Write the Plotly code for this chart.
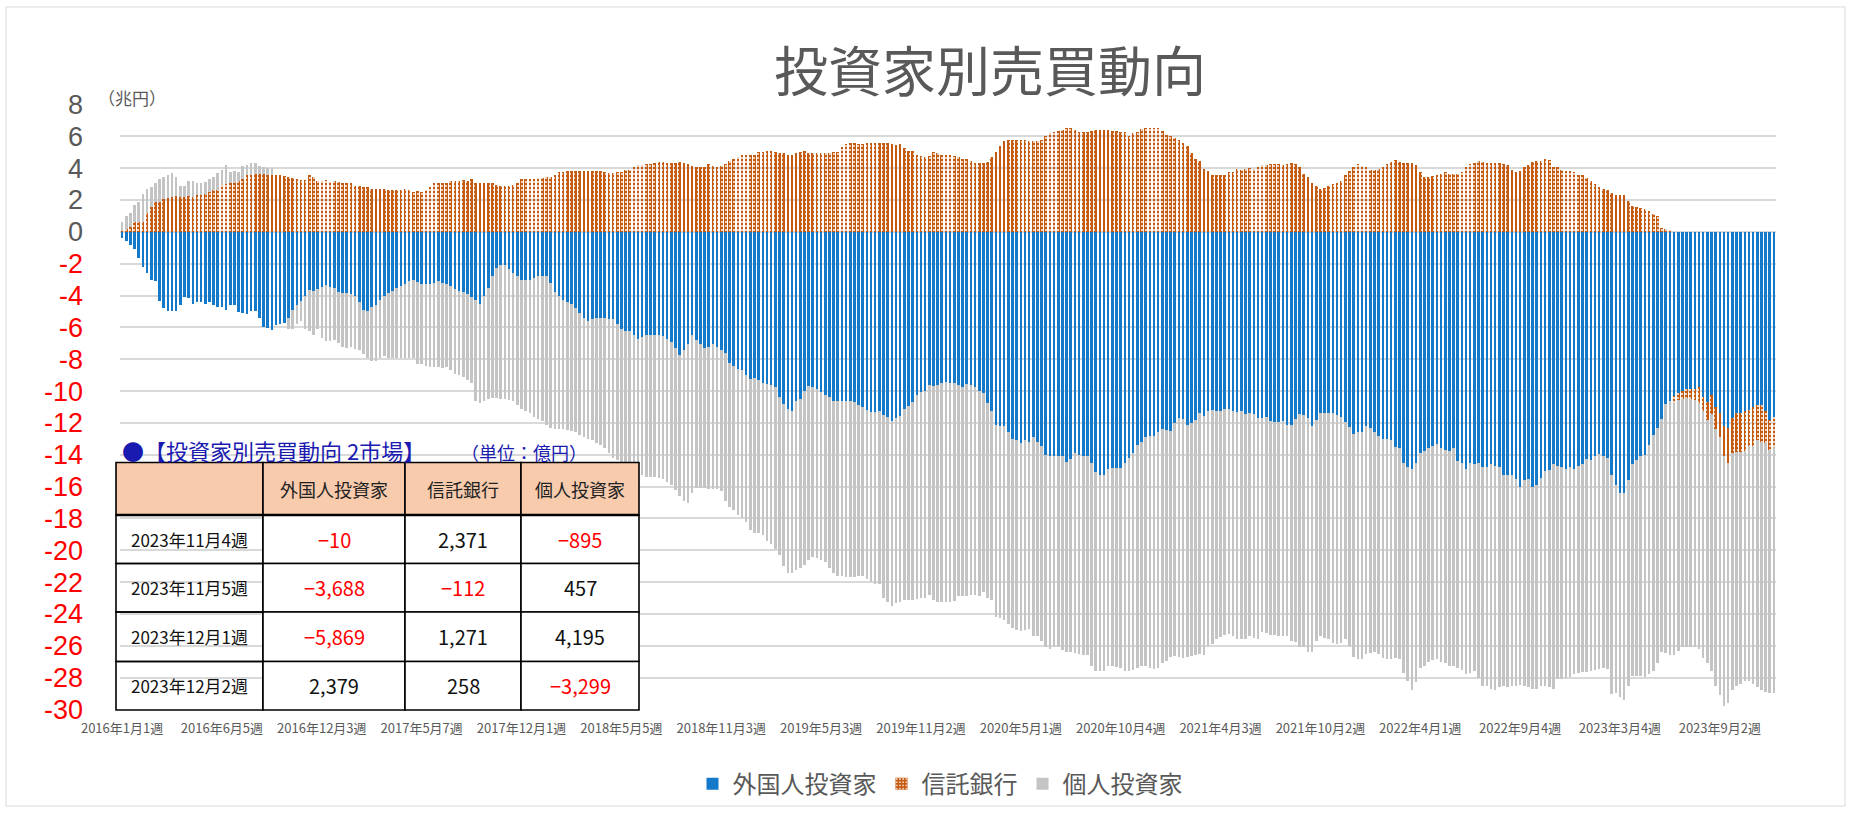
import plotly.graph_objects as go

# ---------------- data (cumulative, 兆円), weekly from 2016年1月1週 ----------------
foreign = [
    -0.4, -0.6, -0.85, -1.05, -1.65, -2.2, -2.6, -3.0, -3.1, -4.35,
    -4.8, -4.95, -4.95, -4.95, -4.6, -4.1, -4.15, -4.5, -4.4, -4.4,
    -4.5, -4.4, -4.6, -4.7, -4.75, -4.9, -4.6, -4.6, -5.05, -5.1,
    -5.15, -5.0, -5.0, -5.4, -5.95, -6.05, -6.15, -5.85, -5.8, -5.75,
    -5.4, -4.9, -4.6, -4.35, -4.0, -3.65, -3.7, -3.6, -3.45, -3.35,
    -3.45, -3.55, -3.75, -3.85, -3.85, -3.9, -4.0, -4.4, -4.9, -4.95,
    -4.75, -4.6, -4.25, -4.05, -3.85, -3.7, -3.5, -3.4, -3.3, -3.1,
    -3.0, -3.15, -3.25, -3.3, -3.3, -3.2, -3.1, -3.2, -3.25, -3.4,
    -3.6, -3.7, -3.75, -3.9, -4.1, -4.3, -4.5, -4.0, -3.5, -2.8,
    -2.25, -2.1, -2.1, -2.35, -2.6, -2.8, -3.0, -3.0, -3.0, -2.9,
    -2.8, -2.75, -2.75, -3.2, -3.75, -4.0, -4.25, -4.4, -4.5, -4.8,
    -5.1, -5.4, -5.6, -5.5, -5.4, -5.4, -5.4, -5.45, -5.5, -5.8,
    -6.1, -6.2, -6.25, -6.5, -6.75, -6.6, -6.45, -6.45, -6.45, -6.5,
    -6.55, -6.7, -6.9, -7.3,
    -7.75, -7.45, -7.05, -6.45, -6.8, -7.05, -7.3, -7.25, -7.05, -7.2,
    -7.4, -7.6, -8.25, -8.4, -8.6, -8.7, -9.0, -9.25, -9.2, -9.3,
    -9.5, -9.55, -9.6, -9.75, -10.4, -10.8, -11.1, -11.25, -10.6, -10.5,
    -10.0, -9.7, -9.75, -9.9, -10.05, -10.25, -10.4, -10.6, -10.6, -10.6,
    -10.6, -10.6, -10.7, -10.9, -11.0, -11.2, -11.3, -11.3, -11.25, -11.5,
    -11.6, -11.9, -11.7, -11.55, -11.1, -10.95, -10.7, -10.25, -10.05, -10.0,
    -9.6, -9.7, -9.6, -9.5, -9.45, -9.5, -9.5,
    -9.6, -9.75, -9.55, -9.6, -9.75, -10.0, -10.1, -10.75, -11.25, -12.1,
    -12.2, -12.2, -12.6, -13.0, -13.1, -13.25, -13.1, -13.2, -12.9, -13.2,
    -13.45, -14.0, -14.1, -14.05, -14.05, -14.05, -14.45, -14.25, -13.9, -14.0,
    -14.05, -14.1, -14.5, -15.1, -15.25, -15.3, -14.9, -14.8, -14.8, -14.85,
    -14.5, -14.2, -13.9, -13.4, -13.2, -12.9, -12.85, -12.85, -12.6, -12.4,
    -12.45, -12.5, -12.0, -11.7, -11.75, -12.1, -12.0, -11.8, -11.4, -11.55,
    -11.25, -11.2, -11.25, -11.25, -11.1, -11.1,
    -11.25, -11.3, -11.25, -11.45, -11.4, -11.45, -11.7, -11.7, -11.6, -11.9,
    -11.95, -11.95, -11.9, -12.1, -12.1, -11.75, -11.45, -11.5, -11.7, -12.2,
    -11.8, -11.4, -11.4, -11.4, -11.4, -11.5, -11.6, -11.95, -12.25, -12.7,
    -12.6, -12.55, -12.2, -12.3, -12.6, -12.8, -13.0, -13.0, -13.05, -13.5,
    -13.6, -14.5, -14.75, -14.9, -14.5, -13.9, -13.75, -13.55, -13.45, -13.3,
    -13.6, -13.7, -13.75, -13.6, -14.4, -14.5, -14.9, -14.5, -14.6, -14.5,
    -14.75, -14.75, -14.6, -14.7, -14.75, -15.25,
    -15.25, -15.3, -15.5, -16.05, -15.6, -15.55, -16.0, -15.9, -15.45, -15.0,
    -14.95, -14.6, -14.7, -14.75, -14.9, -14.75, -14.9, -14.7, -14.6, -14.25,
    -14.3, -14.1, -13.95, -14.05, -14.2, -15.3, -15.9, -16.4, -16.4, -15.6,
    -14.6, -14.3, -14.1, -14.0, -13.4, -12.75, -12.3, -11.75, -10.8, -10.6,
    -10.3, -10.1, -10.0, -9.9, -9.9, -9.9, -9.75, -10.4, -10.7, -10.25,
    -11.0, -11.4, -12.2, -12.3, -11.7, -11.4, -11.4, -11.25, -11.2, -11.0,
    -10.9, -10.9, -11.25, -11.8, -11.6,
]

trust = [
    0.05, 0.15, 0.3, 0.6, 0.6, 0.65, 1.2, 1.55, 1.9, 1.9,
    2.05, 2.1, 2.2, 2.25, 2.2, 2.2, 2.25, 2.2, 2.3, 2.3,
    2.4, 2.5, 2.6, 2.65, 2.95, 3.0, 3.05, 3.1, 3.2, 3.35,
    3.55, 3.6, 3.65, 3.65, 3.65, 3.6, 3.6, 3.6, 3.6, 3.5,
    3.45, 3.4, 3.3, 3.25, 3.25, 3.55, 3.45, 3.2, 3.2, 3.25,
    3.15, 3.2, 3.15, 3.1, 3.1, 3.05, 2.9, 2.85, 2.8, 2.8,
    2.7, 2.7, 2.7, 2.7, 2.65, 2.65, 2.65, 2.6, 2.7, 2.6,
    2.5, 2.55, 2.5, 2.6, 2.8, 3.05, 3.1, 3.1, 3.1, 3.2,
    3.2, 3.2, 3.25, 3.2, 3.3, 3.1, 3.1, 3.05, 3.05, 3.05,
    2.95, 2.9, 2.9, 2.85, 2.95, 3.05, 3.3, 3.3, 3.35, 3.3,
    3.4, 3.4, 3.45, 3.45, 3.6, 3.75, 3.75, 3.8, 3.8, 3.8,
    3.8, 3.8, 3.8, 3.8, 3.8, 3.8, 3.75, 3.7, 3.7, 3.75,
    3.75, 3.9, 3.9, 4.05, 4.2, 4.2, 4.25, 4.25, 4.3, 4.4,
    4.4, 4.35, 4.35, 4.3,
    4.4, 4.35, 4.25, 4.15, 4.05, 4.05, 4.05, 4.25, 4.15, 4.05,
    4.15, 4.25, 4.45, 4.55, 4.7, 4.8, 4.8, 4.85, 4.85, 5.0,
    5.0, 5.05, 5.05, 5.0, 4.95, 4.95, 4.8, 4.85, 4.95, 5.0,
    5.05, 4.95, 4.95, 4.95, 4.95, 4.95, 4.95, 5.0, 5.0, 5.3,
    5.5, 5.55, 5.55, 5.5, 5.5, 5.55, 5.55, 5.55, 5.55, 5.6,
    5.6, 5.5, 5.45, 5.5, 5.25, 5.1, 5.05, 4.85, 4.75, 4.7,
    4.75, 5.0, 4.95, 4.85, 4.85, 4.8, 4.75,
    4.7, 4.6, 4.55, 4.45, 4.3, 4.3, 4.3, 4.4, 4.7, 5.0,
    5.4, 5.7, 5.75, 5.75, 5.75, 5.8, 5.75, 5.7, 5.7, 5.7,
    5.75, 6.0, 6.2, 6.3, 6.35, 6.4, 6.5, 6.5, 6.4, 6.3,
    6.3, 6.3, 6.35, 6.4, 6.4, 6.4, 6.4, 6.35, 6.35, 6.3,
    6.25, 6.05, 6.2, 6.3, 6.45, 6.5, 6.5, 6.5, 6.55, 6.35,
    6.1, 6.05, 5.9, 5.75, 5.6, 5.4, 4.95, 4.6, 4.45, 3.95,
    3.8, 3.55, 3.6, 3.6, 3.6, 3.75,
    3.75, 3.95, 3.9, 3.95, 4.0, 3.95, 4.1, 4.2, 4.2, 4.25,
    4.25, 4.25, 4.2, 4.25, 4.3, 4.25, 4.05, 3.65, 3.45, 3.1,
    2.85, 2.7, 2.75, 2.85, 3.0, 3.1, 3.2, 3.55, 3.8, 4.1,
    4.25, 4.15, 4.1, 3.9, 3.9, 3.95, 4.1, 4.25, 4.4, 4.5,
    4.4, 4.3, 4.3, 4.3, 4.2, 3.75, 3.45, 3.45, 3.5, 3.6,
    3.65, 3.75, 3.65, 3.65, 3.65, 3.75, 4.05, 4.25, 4.35, 4.45,
    4.4, 4.3, 4.3, 4.3, 4.3, 4.25,
    4.2, 3.9, 3.75, 3.8, 4.05, 4.2, 4.4, 4.45, 4.45, 4.55,
    4.5, 4.1, 4.05, 3.9, 3.85, 3.85, 3.75, 3.6, 3.55, 3.4,
    3.2, 3.0, 2.8, 2.7, 2.6, 2.45, 2.3, 2.3, 2.3, 1.95,
    1.6, 1.55, 1.5, 1.45, 1.3, 1.1, 1.0, 0.25, 0.2, 0.1,
    -10.75, -10.55, -10.5, -10.45, -10.5, -10.55, -10.75, -11.25, -11.8, -11.45,
    -12.4, -12.9, -14.1, -14.5, -13.9, -13.8, -13.8, -13.75, -13.45, -13.45,
    -13.1, -13.2, -13.25, -13.7, -13.5,
]

individual = [
    0.6, 1.0, 1.2, 1.7, 1.9, 2.35, 2.7, 2.8, 3.1, 3.3,
    3.45, 3.55, 3.7, 3.45, 2.9, 2.9, 3.2, 3.2, 3.1, 3.05,
    3.15, 3.3, 3.45, 3.7, 3.9, 4.2, 3.75, 3.8, 3.75, 4.15,
    4.2, 4.3, 4.35, 4.15, 4.05, 4.0, 4.0, 2.0, -1.5, -4.5,
    -6.1, -6.1, -5.8, -5.6, -6.1, -6.2, -6.45, -6.1, -6.65, -6.85,
    -6.85, -6.8, -7.0, -7.2, -7.3, -7.25, -7.35, -7.45, -7.7, -7.9,
    -8.1, -8.1, -7.95, -7.8, -7.95, -7.95, -7.95, -7.95, -7.9, -7.95,
    -7.9, -8.3, -8.3, -8.4, -8.5, -8.5, -8.5, -8.55, -8.5, -8.7,
    -8.9, -9.0, -9.1, -9.3, -9.5, -10.6, -10.75, -10.6, -10.5, -10.45,
    -10.45, -10.5, -10.5, -10.55, -10.6, -10.85, -11.1, -11.25, -11.4, -11.6,
    -11.75, -11.9, -12.1, -12.3, -12.4, -12.4, -12.4, -12.45, -12.5, -12.6,
    -12.75, -12.9, -13.0, -13.1, -13.25, -13.4, -13.6, -13.9, -14.2, -14.35,
    -14.5, -14.7, -14.9, -15.0, -15.1, -15.25, -15.4, -15.4, -15.4, -15.45,
    -15.5, -15.7, -15.9, -16.2,
    -16.6, -16.9, -17.0, -16.4, -16.1, -16.1, -16.1, -16.15, -16.15, -16.15,
    -16.3, -16.9, -17.25, -17.45, -17.8, -18.0, -18.25, -18.7, -18.9, -18.9,
    -19.05, -19.4, -19.6, -19.9, -20.3, -21.0, -21.4, -21.4, -21.25, -21.1,
    -20.9, -20.6, -20.4, -20.5, -20.6, -20.75, -21.1, -21.4, -21.6, -21.6,
    -21.7, -21.7, -21.7, -21.6, -21.6, -21.8, -22.0, -22.1, -22.1, -23.0,
    -23.25, -23.5, -23.3, -23.25, -23.1, -23.1, -23.1, -23.05, -23.0, -23.0,
    -22.8, -23.1, -23.25, -23.25, -23.25, -23.25, -23.2,
    -22.9, -22.9, -22.9, -22.8, -22.8, -22.9, -22.6, -23.0, -23.1, -24.2,
    -24.25, -24.4, -24.6, -24.9, -25.0, -25.05, -25.0, -24.95, -25.4, -25.4,
    -25.7, -26.1, -26.2, -26.1, -26.1, -26.25, -26.4, -26.4, -26.45, -26.5,
    -26.55, -26.6, -27.25, -27.55, -27.6, -27.6, -27.25, -27.25, -27.3, -27.4,
    -27.6, -27.6, -27.5, -27.4, -27.25, -27.25, -27.4, -27.45, -27.4, -27.1,
    -26.95, -26.7, -26.65, -26.7, -26.75, -26.7, -26.65, -26.6, -26.5, -26.55,
    -26.0, -25.9, -25.6, -25.45, -25.3, -25.25,
    -25.4, -25.6, -25.55, -25.55, -25.4, -25.5, -25.55, -25.1, -25.2, -25.3,
    -25.3, -25.4, -25.4, -25.4, -25.7, -25.75, -26.1, -26.1, -26.4, -26.4,
    -25.7, -25.4, -25.5, -25.6, -25.8, -25.9, -25.85, -25.6, -26.0, -26.7,
    -26.8, -26.8, -26.5, -26.45, -26.4, -26.5, -26.75, -26.8, -26.8, -26.75,
    -26.8, -27.7, -28.2, -28.75, -28.3, -27.4, -27.25, -27.0, -26.9, -26.85,
    -27.0, -27.1, -27.25, -27.25, -27.4, -27.5, -27.75, -27.7, -27.6, -28.0,
    -28.5, -28.55, -28.7, -28.8, -28.6, -28.5,
    -28.6, -28.5, -28.5, -28.45, -28.5, -28.6, -28.7, -28.7, -28.5, -28.55,
    -28.6, -28.7, -28.1, -28.1, -28.0, -27.95, -27.8, -27.7, -27.65, -27.65,
    -27.55, -27.5, -27.45, -27.4, -27.45, -29.0, -28.95, -29.2, -29.4, -28.5,
    -27.9, -27.9, -27.9, -27.95, -27.8, -27.55, -27.05, -26.4, -26.45, -26.55,
    -26.6, -26.3, -26.05, -26.05, -26.05, -26.05, -26.2, -26.75, -27.1, -27.6,
    -28.5, -29.1, -29.75, -29.6, -28.75, -28.5, -28.4, -28.2, -28.2, -28.4,
    -28.6, -28.75, -28.9, -28.95, -28.95,
]

assert len(foreign) == len(trust) == len(individual), (len(foreign), len(trust), len(individual))

tick_labels = [
    "2016年1月1週", "2016年6月5週", "2016年12月3週", "2017年5月7週", "2017年12月1週",
    "2018年5月5週", "2018年11月3週", "2019年5月3週", "2019年11月2週", "2020年5月1週",
    "2020年10月4週", "2021年4月3週", "2021年10月2週", "2022年4月1週", "2022年9月4週",
    "2023年3月4週", "2023年9月2週",
]
label_step = 24
y_ticks = list(range(-30, 9, 2))

series_names = ["外国人投資家", "信託銀行", "個人投資家"]

table_weeks = ["2023年11月4週", "2023年11月5週", "2023年12月1週", "2023年12月2週"]
table_foreign = [-10, -3688, -5869, 2379]
table_trust = [2371, -112, 1271, 258]
table_individual = [-895, 457, 4195, -3299]

# ---------------- layout helpers ----------------
W, H = 1851, 819
L, R, T, B = 120, 75, 104, 103
PW, PH = W - L - R, H - T - B
FONT = "Noto Sans CJK JP, Noto Sans, sans-serif"
GRAY_TXT = "#595959"


def px(x):
    return (x - L) / PW


def py(y):
    return (H - B - y) / PH


n = len(foreign)
idx = list(range(n))
bw = 0.62
ORANGE = "#C55A11"

fig = go.Figure()
fig.add_trace(go.Bar(x=idx, y=individual, name=series_names[2], width=bw,
                     marker=dict(color="#C4C4C4", line=dict(width=0)), legendrank=3))
fig.add_trace(go.Bar(x=idx, y=trust, name=series_names[1], width=bw,
                     marker=dict(color=ORANGE, line=dict(width=0),
                                 pattern=dict(shape=".", fgcolor="#FFFFFF", bgcolor=ORANGE,
                                              size=4, solidity=0.18, fillmode="replace")),
                     legendrank=2))
fig.add_trace(go.Bar(x=idx, y=foreign, name=series_names[0], width=bw,
                     marker=dict(color="#1479C9", line=dict(width=0)), legendrank=1))

ytext = [f'<span style="color:#FF0000">{v}</span>' if v < 0 else str(v) for v in y_ticks]

fig.update_layout(
    width=W, height=H,
    margin=dict(l=L, r=R, t=T, b=B),
    paper_bgcolor="white", plot_bgcolor="white",
    barmode="overlay", bargap=0,
    font=dict(family=FONT, color=GRAY_TXT),
    showlegend=True,
    legend=dict(orientation="h", x=px(940), xanchor="center", y=py(791), yanchor="middle",
                font=dict(size=24, color=GRAY_TXT, family=FONT), bgcolor="rgba(0,0,0,0)",
                itemwidth=30, traceorder="normal"),
    xaxis=dict(range=[-0.5, n - 0.5], tickmode="array",
               tickvals=[i * label_step for i in range(len(tick_labels))],
               ticktext=tick_labels, showgrid=False, zeroline=False, showline=False,
               ticks="", tickangle=0, tickfont=dict(size=13, color=GRAY_TXT, family=FONT),
               ticklabelstandoff=9),
    yaxis=dict(range=[-30.03, 8.03], tickmode="array", tickvals=y_ticks, ticktext=ytext,
               showgrid=True, gridcolor="#D9D9D9", gridwidth=1.5, zeroline=False,
               showline=False, ticks="",
               tickfont=dict(size=27, color=GRAY_TXT, family="Liberation Sans, Arial, sans-serif"),
               ticklabelstandoff=36),
)

annotations = [
    dict(text="投資家別売買動向", x=px(990), y=py(68), font=dict(size=54, color=GRAY_TXT)),
    dict(text="（兆円）", x=px(132), y=py(97), font=dict(size=17, color=GRAY_TXT)),
    dict(text="●【投資家別売買動向 2市場】", x=px(120), y=py(453), xanchor="left",
         font=dict(size=22, color="#1A1AB0")),
    dict(text="（単位：億円）", x=px(524), y=py(455), font=dict(size=18, color="#1A1AB0")),
]

# ---------------- table (shapes + annotations) ----------------
col_edges = [116, 263, 405, 521, 639]
row_edges = [466, 519, 568, 617, 667, 716]
shapes = []
for r in range(len(row_edges) - 1):
    for c in range(len(col_edges) - 1):
        if r == 0:
            fill = "#F8CBAD"
        elif c == 0:
            fill = "rgba(0,0,0,0)"
        else:
            fill = "white"
        shapes.append(dict(type="rect", xref="paper", yref="paper", layer="above",
                           x0=px(col_edges[c]), x1=px(col_edges[c + 1]),
                           y0=py(row_edges[r]), y1=py(row_edges[r + 1]),
                           fillcolor=fill, line=dict(color="black", width=1.6)))
shapes.append(dict(type="line", xref="paper", yref="paper", layer="above",
                   x0=px(col_edges[0]), x1=px(col_edges[-1]), y0=py(row_edges[1]), y1=py(row_edges[1]),
                   line=dict(color="black", width=2.4)))
# outer chart border
shapes.append(dict(type="rect", xref="paper", yref="paper", layer="below",
                   x0=px(6), x1=px(1845), y0=py(6), y1=py(813),
                   line=dict(color="#D9D9D9", width=1), fillcolor="rgba(0,0,0,0)"))


def cx(c):
    return px((col_edges[c] + col_edges[c + 1]) / 2)


def cy(r):
    return py((row_edges[r] + row_edges[r + 1]) / 2)


for c, name in enumerate(series_names):
    annotations.append(dict(text=name, x=cx(c + 1), y=cy(0), font=dict(size=18, color="#222222")))


def fmt(v):
    s = f"{abs(v):,}"
    return ("−" + s) if v < 0 else s


for r, wk in enumerate(table_weeks):
    annotations.append(dict(text=wk, x=cx(0), y=cy(r + 1), font=dict(size=17, color="#111111")))
    for c, vals in enumerate([table_foreign, table_trust, table_individual]):
        v = vals[r]
        annotations.append(dict(text=fmt(v), x=cx(c + 1), y=cy(r + 1),
                                font=dict(size=20, color="#FF0000" if v < 0 else "#111111")))

for a in annotations:
    a.setdefault("xref", "paper")
    a.setdefault("yref", "paper")
    a.setdefault("showarrow", False)
    a.setdefault("xanchor", "center")
    a.setdefault("yanchor", "middle")
    a["font"].setdefault("family", FONT)

fig.update_layout(annotations=annotations, shapes=shapes)

fig.write_html("out.html", include_plotlyjs=True, config={"displayModeBar": False},
               post_script="document.body.style.margin='0';document.body.style.overflow='hidden';")
